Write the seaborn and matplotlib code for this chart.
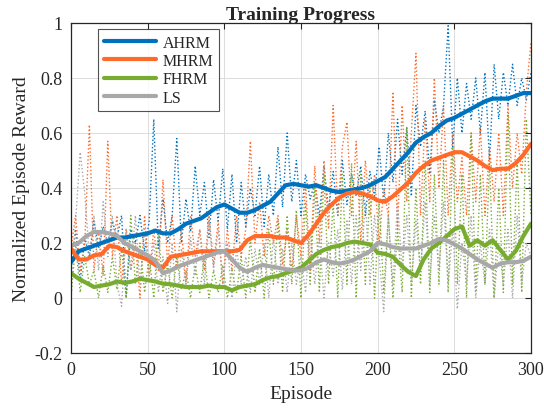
import numpy as np
import pandas as pd
import seaborn as sns
import matplotlib.pyplot as plt

raw_eps = list(range(0, 301, 3))
ahrm_raw = [0.12, 0.25, 0.06, 0.22, 0.15, 0.28, 0.18, 0.26, 0.2, 0.28,
            0.22, 0.3, 0.0, 0.25, 0.2, 0.3, 0.17, 0.28, 0.65, 0.18,
            0.36, 0.2, 0.3, 0.58, 0.2, 0.36, 0.24, 0.48, 0.3, 0.42,
            0.22, 0.43, 0.28, 0.47, 0.25, 0.45, 0.2, 0.42, 0.26, 0.4,
            0.3, 0.48, 0.26, 0.45, 0.3, 0.55, 0.33, 0.6, 0.35, 0.5,
            0.3, 0.45, 0.36, 0.42, 0.3, 0.48, 0.32, 0.46, 0.3, 0.5,
            0.34, 0.45, 0.37, 0.48, 0.3, 0.46, 0.37, 0.55, 0.35, 0.6,
            0.42, 0.65, 0.45, 0.62, 0.37, 0.7, 0.55, 0.68, 0.45, 0.72,
            0.6, 0.7, 0.99, 0.55, 0.8, 0.6, 0.78, 0.65, 0.8, 0.6,
            0.82, 0.5, 0.85, 0.65, 0.82, 0.7, 0.85, 0.7, 0.8, 0.72, 0.82]
mhrm_raw = [0.18, 0.3, 0.1, 0.2, 0.63, 0.1, 0.25, 0.08, 0.57, 0.15,
            0.3, 0.05, 0.25, 0.1, 0.2, 0.0, 0.3, 0.08, 0.25, 0.1,
            0.43, 0.12, 0.3, 0.1, 0.25, 0.05, 0.3, 0.15, 0.25, 0.1,
            0.3, 0.12, 0.28, 0.05, 0.25, 0.1, 0.3, 0.15, 0.25, 0.57,
            0.2, 0.35, 0.15, 0.3, 0.2, 0.3, 0.12, 0.25, 0.1, 0.3,
            0.15, 0.42, 0.1, 0.48, 0.2, 0.5, 0.25, 0.7, 0.3, 0.55,
            0.64, 0.3, 0.57, 0.2, 0.5, 0.3, 0.45, 0.2, 0.4, 0.3,
            0.75, 0.25, 0.7, 0.35, 0.6, 0.89, 0.3, 0.65, 0.35, 0.8,
            0.4, 0.7, 0.3, 0.6, 0.35, 0.51, 0.3, 0.6, 0.35, 0.62,
            0.3, 0.55, 0.35, 0.6, 0.3, 0.7, 0.4, 0.6, 0.45, 0.75, 0.93]
fhrm_raw = [0.0, 0.2, 0.02, 0.15, 0.05, 0.1, 0.0, 0.12, 0.02, 0.15,
            0.03, 0.18, 0.0, 0.3, 0.05, 0.2, 0.02, 0.15, 0.0, 0.25,
            0.02, 0.12, 0.0, 0.15, 0.03, 0.1, 0.0, 0.12, 0.02, 0.15,
            0.0, 0.1, 0.02, 0.12, 0.0, 0.1, 0.02, 0.15, 0.0, 0.22,
            0.02, 0.18, 0.0, 0.25, 0.05, 0.28, 0.02, 0.3, 0.05, 0.32,
            0.0, 0.35, 0.05, 0.4, 0.02, 0.45, 0.05, 0.35, 0.0, 0.45,
            0.05, 0.49, 0.0, 0.45, 0.05, 0.4, 0.0, 0.35, 0.02, 0.3,
            0.0, 0.25, 0.02, 0.62, 0.0, 0.4, 0.05, 0.5, 0.02, 0.45,
            0.05, 0.5, 0.02, 0.55, 0.05, 0.45, 0.0, 0.6, 0.02, 0.45,
            0.05, 0.5, 0.0, 0.4, 0.02, 0.67, 0.05, 0.5, 0.02, 0.65, 0.3]
ls_raw = [0.0, 0.28, 0.53, 0.38, 0.15, 0.3, 0.1, 0.35, 0.15, 0.3,
          0.05, -0.03, 0.25, 0.1, 0.3, 0.05, 0.25, 0.08, 0.2, 0.02,
          0.15, -0.02, 0.2, -0.05, 0.18, 0.05, 0.22, 0.08, 0.25, 0.05,
          0.28, 0.1, 0.25, 0.05, 0.2, 0.0, 0.18, 0.05, 0.15, 0.02,
          0.18, 0.05, 0.2, 0.0, 0.22, 0.05, 0.18, 0.02, 0.2, 0.05,
          0.15, 0.02, 0.25, 0.05, 0.22, 0.0, 0.2, 0.08, 0.25, 0.03,
          0.28, 0.05, 0.3, 0.1, 0.35, 0.05, 0.3, 0.15, -0.05, 0.3,
          0.05, 0.35, 0.1, 0.3, 0.05, 0.28, 0.1, 0.35, 0.05, 0.3,
          0.1, 0.35, 0.05, 0.25, -0.04, 0.2, 0.05, 0.3, 0.0, 0.2,
          0.05, 0.25, 0.0, 0.2, 0.05, 0.25, 0.0, 0.3, 0.05, 0.2, 0.15]

smooth_eps = list(range(0, 301, 5))
ahrm_smooth = [0.13, 0.17, 0.18, 0.19, 0.2, 0.21, 0.22, 0.22, 0.225, 0.23,
               0.235, 0.245, 0.235, 0.235, 0.25, 0.27, 0.28, 0.29, 0.31, 0.33,
               0.34, 0.325, 0.31, 0.31, 0.32, 0.335, 0.35, 0.38, 0.41, 0.415,
               0.41, 0.405, 0.41, 0.4, 0.39, 0.385, 0.39, 0.395, 0.4, 0.41,
               0.425, 0.44, 0.47, 0.5, 0.53, 0.565, 0.585, 0.6, 0.625, 0.645,
               0.655, 0.67, 0.685, 0.7, 0.715, 0.725, 0.725, 0.725, 0.735, 0.745, 0.745]
mhrm_smooth = [0.18, 0.14, 0.14, 0.155, 0.16, 0.19, 0.185, 0.17, 0.16, 0.15,
               0.14, 0.12, 0.11, 0.15, 0.155, 0.16, 0.165, 0.17, 0.17, 0.17,
               0.17, 0.17, 0.175, 0.21, 0.225, 0.225, 0.225, 0.22, 0.22, 0.21,
               0.2, 0.23, 0.27, 0.31, 0.34, 0.365, 0.38, 0.385, 0.38, 0.37,
               0.355, 0.35, 0.37, 0.395, 0.42, 0.455, 0.48, 0.5, 0.51, 0.52,
               0.53, 0.53, 0.515, 0.5, 0.48, 0.465, 0.47, 0.47, 0.49, 0.52, 0.56]
fhrm_smooth = [0.09, 0.07, 0.055, 0.04, 0.045, 0.05, 0.06, 0.055, 0.06, 0.07,
               0.065, 0.06, 0.052, 0.05, 0.045, 0.04, 0.04, 0.04, 0.045, 0.04,
               0.04, 0.028, 0.04, 0.045, 0.05, 0.065, 0.075, 0.08, 0.09, 0.1,
               0.11, 0.135, 0.16, 0.175, 0.185, 0.19, 0.2, 0.205, 0.2, 0.195,
               0.165, 0.16, 0.15, 0.12, 0.095, 0.08, 0.14, 0.18, 0.2, 0.225,
               0.25, 0.26, 0.19, 0.21, 0.19, 0.21, 0.175, 0.14, 0.17, 0.225, 0.27]
ls_smooth = [0.19, 0.2, 0.225, 0.24, 0.24, 0.235, 0.225, 0.2, 0.185, 0.17,
             0.155, 0.135, 0.09, 0.1, 0.115, 0.125, 0.135, 0.145, 0.155, 0.165,
             0.17, 0.14, 0.11, 0.095, 0.11, 0.12, 0.115, 0.11, 0.105, 0.1,
             0.1, 0.11, 0.13, 0.14, 0.13, 0.125, 0.13, 0.14, 0.155, 0.17,
             0.2, 0.195, 0.185, 0.18, 0.18, 0.18, 0.19, 0.2, 0.215, 0.21,
             0.195, 0.18, 0.16, 0.14, 0.125, 0.11, 0.125, 0.13, 0.13, 0.135, 0.15]

methods = ["AHRM", "MHRM", "FHRM", "LS"]
colors = ["#0072BD", "#FF6A2A", "#77AC30", "#A8A8A8"]
raw_series = [ahrm_raw, mhrm_raw, fhrm_raw, ls_raw]
smooth_series = [ahrm_smooth, mhrm_smooth, fhrm_smooth, ls_smooth]

sns.set_style("white")
plt.rcParams["font.family"] = ["Liberation Serif", "DejaVu Serif"]

fig = plt.figure(figsize=(5.44, 4.10), dpi=100)
ax = fig.add_axes([0.1305, 0.1366, 0.8455, 0.8049])

# raw (dotted) traces
for vals, c in zip(raw_series, colors):
    sns.lineplot(x=raw_eps, y=vals, ax=ax, color=c, linestyle=":", linewidth=1.0)

# smoothed traces
for name, vals, c in zip(methods, smooth_series, colors):
    sns.lineplot(x=smooth_eps, y=vals, ax=ax, color=c, linewidth=3.0, label=name)

ax.set_xlim(0, 300)
ax.set_ylim(-0.2, 1.0)
ax.set_xticks([0, 50, 100, 150, 200, 250, 300])
ax.set_yticks([-0.2, 0, 0.2, 0.4, 0.6, 0.8, 1.0])
ax.set_yticklabels(["-0.2", "0", "0.2", "0.4", "0.6", "0.8", "1"])
ax.grid(True, color="#DCDCDC", linewidth=0.7)
ax.tick_params(direction="in", length=4, top=True, right=True,
               labelsize=13, colors="#262626", width=0.8, pad=6)
for sp in ax.spines.values():
    sp.set_color("#262626")
    sp.set_linewidth(0.9)

ax.set_title("Training Progress", fontsize=14, fontweight="bold", pad=3)
ax.set_xlabel("Episode", fontsize=14, labelpad=5)
ax.set_ylabel("Normalized Episode Reward", fontsize=14, labelpad=3)

leg = ax.legend(loc="upper left", bbox_to_anchor=(0.059, 0.982), borderaxespad=0,
                fontsize=11.5, handlelength=3.3, handletextpad=0.4,
                labelspacing=0.15, borderpad=0.35, frameon=True, fancybox=False)
leg.get_frame().set_edgecolor("#262626")
leg.get_frame().set_linewidth(0.8)

fig.savefig("out.png", dpi=100)
